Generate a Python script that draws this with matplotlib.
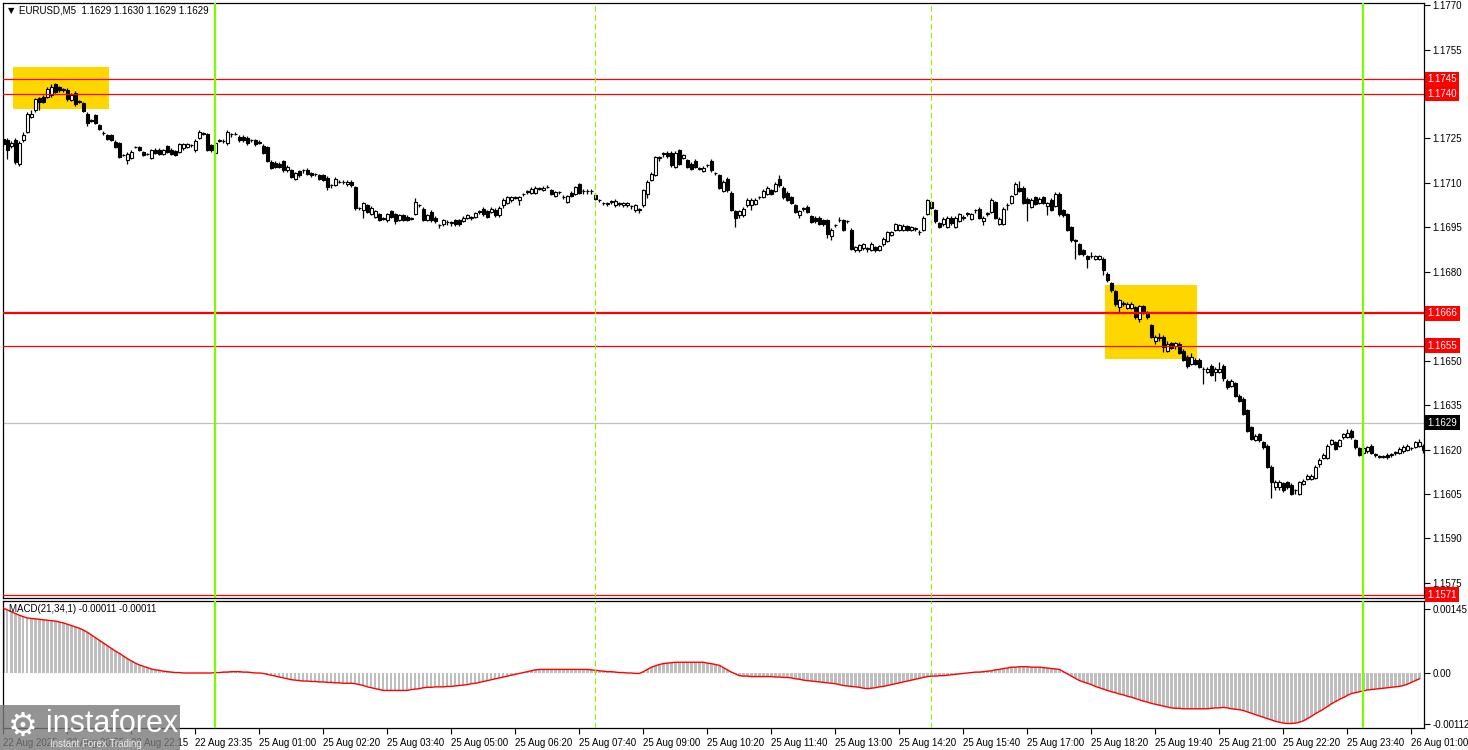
import matplotlib
matplotlib.use('Agg')
import matplotlib.pyplot as plt
from matplotlib.patches import Rectangle
import numpy as np

plt.rcParams['font.family'] = ['Liberation Sans', 'DejaVu Sans']

# EURUSD M5, prices in pips above 1.1600
opens = [
    124.9, 124.4, 122.4, 124.4, 116.3, 124.4, 127.2, 132.3, 134.5, 138.5,
    139.0, 139.0, 139.6, 143.2, 142.2, 141.5, 141.5, 138.1, 140.4, 137.6,
    136.8, 133.4, 131.1, 132.8, 129.4, 126.9, 126.1, 126.1, 123.8, 123.3,
    119.3, 117.6, 118.4, 122.1, 122.1, 120.4, 119.7, 118.4, 121.2, 121.2,
    119.9, 122.3, 121.2, 120.6, 120.4, 121.6, 122.1, 122.7, 121.0, 125.3,
    126.6, 126.4, 122.7, 120.1, 124.2, 124.2, 123.3, 126.4, 126.6, 125.5,
    125.5, 125.3, 124.4, 124.4, 123.8, 122.5, 122.1, 117.1, 116.8, 116.5,
    117.3, 114.2, 114.2, 111.4, 114.0, 114.2, 114.5, 113.3, 112.9, 112.5,
    112.5, 111.8, 109.2, 109.2, 110.3, 110.3, 109.5, 110.3, 108.6, 101.4,
    100.7, 102.4, 99.4, 98.5, 99.4, 97.9, 97.3, 100.5, 99.4, 97.6,
    99.0, 98.5, 97.9, 99.4, 102.4, 101.3, 97.6, 100.2, 98.2, 95.7,
    96.0, 96.8, 96.5, 97.3, 97.3, 97.1, 98.2, 98.2, 98.5, 100.2,
    101.3, 100.5, 100.2, 100.9, 99.0, 102.4, 103.2, 104.1, 105.0, 104.1,
    106.1, 107.0, 106.6, 106.6, 108.0, 107.5, 108.6, 107.5, 105.5, 106.9,
    105.2, 103.5, 106.6, 106.4, 109.5, 107.2, 107.2, 107.2, 105.8, 104.1,
    103.2, 102.9, 103.7, 102.4, 103.0, 102.4, 102.4, 102.1, 100.7, 100.9,
    102.4, 106.4, 111.1, 112.6, 118.5, 119.9, 120.1, 120.1, 115.4, 121.0,
    118.5, 117.6, 116.5, 117.4, 114.8, 114.0, 115.9, 117.4, 113.3, 112.6,
    107.3, 111.4, 106.6, 100.5, 99.0, 99.0, 102.4, 102.4, 103.0, 105.2,
    105.2, 106.4, 107.5, 107.3, 111.4, 108.4, 106.6, 105.2, 102.4, 99.0,
    101.3, 101.8, 98.7, 98.2, 98.2, 97.3, 97.3, 91.9, 95.7, 97.3,
    97.3, 97.1, 94.2, 87.2, 87.2, 88.1, 87.8, 87.4, 88.3, 87.4,
    89.2, 90.4, 92.3, 94.2, 94.0, 94.2, 95.3, 94.2, 94.5, 93.4,
    94.2, 99.4, 103.5, 100.7, 96.4, 96.2, 95.1, 98.3, 95.1, 97.1,
    98.3, 99.6, 97.9, 100.7, 101.3, 97.1, 99.6, 100.2, 103.5, 96.2,
    96.2, 102.4, 103.2, 106.4, 108.4, 108.4, 104.7, 101.8, 105.2, 103.2,
    105.2, 102.1, 104.3, 102.1, 106.4, 100.7, 99.4, 95.1, 90.4, 89.2,
    87.2, 85.2, 85.2, 84.4, 84.4, 84.4, 79.3, 76.2, 73.5, 68.0,
    69.2, 67.8, 67.8, 68.1, 64.1, 68.3, 66.4, 62.0, 56.8, 57.8,
    58.1, 53.4, 55.9, 54.8, 55.7, 53.3, 51.4, 48.9, 50.3, 50.3,
    47.2, 46.1, 48.3, 46.1, 46.1, 48.3, 43.3, 41.6, 42.4, 38.2,
    37.1, 33.2, 27.5, 23.2, 25.2, 22.4, 21.3, 14.2, 7.4, 7.4,
    8.6, 8.9, 8.1, 6.3, 5.0, 8.3, 10.0, 10.0, 10.4, 15.1,
    17.1, 17.1, 21.9, 22.4, 21.3, 24.1, 24.3, 26.4, 23.2, 20.5,
    19.0, 19.4, 21.3, 18.3, 17.6, 17.6, 18.3, 18.3, 19.0, 19.0,
    19.4, 19.8, 20.5, 21.0, 21.3, 21.3,
]
closes = [
    123.2, 121.0, 123.5, 117.1, 123.3, 126.3, 133.4, 133.4, 138.2, 137.3,
    137.3, 141.8, 142.2, 140.7, 141.3, 141.5, 138.2, 139.6, 136.5, 137.4,
    134.3, 130.2, 130.9, 130.2, 128.3, 126.8, 124.8, 124.6, 122.1, 118.8,
    119.3, 119.9, 120.4, 122.1, 121.0, 119.5, 119.7, 121.0, 120.1, 119.9,
    121.0, 120.4, 119.9, 119.5, 123.0, 123.0, 123.0, 122.7, 124.2, 127.2,
    126.6, 121.2, 121.0, 123.5, 124.2, 124.0, 127.2, 126.4, 126.5, 124.4,
    124.4, 123.3, 124.3, 123.0, 123.5, 120.1, 117.4, 115.1, 115.4, 115.4,
    114.2, 115.4, 112.0, 113.3, 112.5, 114.2, 113.1, 112.6, 112.9, 111.4,
    111.1, 108.6, 109.2, 111.4, 110.3, 110.3, 110.3, 109.2, 101.6, 101.4,
    103.2, 100.2, 101.6, 100.5, 97.6, 97.9, 99.4, 98.5, 97.1, 99.0,
    97.6, 97.6, 97.9, 103.5, 102.4, 97.6, 99.0, 97.3, 97.1, 95.7,
    97.3, 96.8, 96.5, 96.0, 96.0, 98.2, 99.0, 98.2, 99.8, 100.2,
    99.4, 98.5, 101.3, 99.0, 101.6, 104.3, 105.2, 105.2, 105.0, 105.2,
    106.1, 107.0, 108.0, 108.4, 108.0, 108.4, 108.6, 106.4, 106.9, 106.9,
    105.2, 105.5, 105.5, 108.6, 106.6, 107.2, 107.2, 107.2, 104.7, 104.1,
    103.2, 102.9, 103.7, 103.9, 103.0, 103.2, 103.2, 102.1, 102.4, 100.9,
    107.5, 110.3, 113.1, 118.7, 118.5, 119.9, 119.0, 115.9, 120.1, 116.5,
    119.3, 115.4, 114.8, 115.4, 114.8, 115.1, 115.9, 114.2, 113.3, 108.4,
    110.3, 107.5, 101.0, 98.3, 100.5, 101.3, 104.3, 104.3, 104.3, 105.2,
    107.3, 108.4, 106.4, 109.7, 109.2, 105.2, 104.3, 103.2, 100.2, 100.5,
    101.3, 100.2, 96.8, 97.1, 96.2, 96.0, 92.8, 94.2, 95.7, 97.3,
    94.2, 97.1, 87.8, 88.3, 88.9, 89.2, 87.8, 89.5, 87.2, 88.6,
    91.1, 93.4, 93.4, 96.0, 95.7, 95.3, 94.2, 95.1, 94.5, 93.4,
    98.3, 104.1, 101.6, 97.1, 95.1, 97.9, 98.3, 96.4, 98.3, 99.4,
    98.3, 99.6, 99.4, 100.7, 98.3, 98.3, 99.6, 104.3, 98.3, 97.9,
    101.3, 102.4, 105.5, 109.5, 107.3, 103.2, 103.2, 104.3, 103.0, 104.7,
    103.2, 103.2, 100.9, 106.4, 99.4, 99.0, 94.2, 90.6, 90.4, 86.1,
    85.9, 84.4, 85.2, 85.2, 85.2, 80.5, 77.1, 73.7, 69.0, 70.3,
    69.2, 69.2, 69.2, 64.7, 68.3, 66.4, 64.7, 58.1, 58.1, 57.8,
    54.5, 55.7, 54.3, 55.9, 52.6, 50.3, 48.3, 51.2, 48.9, 48.0,
    47.2, 47.2, 45.3, 47.2, 47.2, 44.2, 41.0, 43.3, 38.2, 36.5,
    32.0, 26.4, 23.6, 24.7, 23.2, 20.7, 14.2, 8.9, 9.2, 9.2,
    6.3, 7.2, 5.0, 6.3, 8.9, 9.5, 11.2, 11.2, 14.2, 16.5,
    18.3, 21.3, 23.2, 20.2, 23.2, 25.2, 25.5, 24.1, 20.8, 18.3,
    20.5, 20.7, 19.0, 18.3, 17.6, 17.6, 17.4, 18.3, 19.0, 20.2,
    21.0, 21.3, 20.5, 22.4, 22.4, 19.8,
]
highs = [
    125.6, 125.0, 124.2, 125.0, 124.0, 127.2, 134.0, 134.5, 138.8, 139.0,
    139.5, 142.5, 143.5, 143.8, 142.8, 142.0, 142.0, 140.2, 141.0, 138.0,
    137.2, 133.9, 131.6, 133.2, 129.9, 127.4, 126.6, 126.5, 124.3, 123.8,
    119.8, 120.4, 121.0, 122.6, 122.6, 120.9, 120.2, 121.5, 121.7, 121.7,
    121.5, 122.8, 121.7, 121.1, 123.5, 123.5, 123.5, 123.2, 124.7, 127.8,
    127.1, 126.9, 123.2, 124.0, 124.7, 124.7, 127.7, 126.9, 127.1, 126.0,
    126.0, 125.8, 124.9, 124.9, 124.3, 123.0, 122.6, 117.6, 117.3, 117.0,
    117.8, 115.9, 114.7, 113.8, 114.5, 114.7, 115.0, 113.8, 113.4, 113.0,
    113.0, 112.3, 109.7, 111.9, 110.8, 110.8, 110.8, 110.8, 109.1, 101.9,
    103.7, 102.9, 102.1, 101.0, 99.9, 98.4, 99.9, 101.0, 99.9, 99.5,
    99.5, 99.0, 98.4, 104.8, 103.0, 101.8, 99.5, 100.7, 98.7, 96.2,
    97.8, 97.3, 97.0, 97.8, 97.8, 98.7, 99.5, 98.7, 100.3, 100.7,
    101.8, 101.0, 101.8, 101.4, 102.1, 104.8, 105.7, 105.7, 105.5, 105.7,
    106.6, 107.5, 108.5, 108.9, 108.5, 108.9, 109.4, 108.0, 107.4, 107.4,
    106.0, 106.0, 107.1, 109.1, 110.0, 107.8, 107.8, 107.8, 106.6, 104.6,
    103.7, 103.4, 104.2, 104.4, 103.5, 103.7, 103.7, 102.6, 102.9, 101.5,
    108.0, 110.8, 113.6, 119.2, 119.2, 120.4, 120.6, 120.6, 120.6, 121.5,
    119.8, 118.1, 117.0, 117.9, 115.3, 115.6, 116.4, 118.2, 113.8, 113.1,
    110.8, 111.9, 107.1, 101.0, 101.0, 101.8, 104.8, 104.8, 104.8, 105.7,
    107.8, 108.9, 108.0, 110.2, 112.5, 108.9, 107.1, 105.7, 102.9, 101.0,
    101.8, 102.6, 99.2, 98.7, 98.7, 97.8, 97.8, 94.7, 96.2, 98.6,
    97.8, 97.6, 94.7, 88.8, 89.4, 89.7, 88.4, 90.0, 88.8, 89.1,
    91.6, 93.9, 93.9, 96.5, 96.2, 96.0, 95.8, 95.6, 95.0, 94.0,
    98.8, 104.6, 104.0, 101.2, 96.9, 98.4, 98.8, 98.8, 98.8, 99.9,
    99.0, 100.2, 99.9, 101.3, 101.8, 98.8, 100.2, 104.8, 104.0, 98.4,
    101.8, 103.2, 106.0, 110.3, 110.6, 108.9, 105.2, 104.8, 105.7, 105.2,
    105.7, 103.7, 104.8, 106.9, 106.9, 101.2, 99.9, 95.6, 91.2, 89.7,
    87.7, 85.7, 86.5, 85.7, 85.7, 84.9, 79.8, 76.7, 74.0, 70.8,
    70.0, 69.7, 69.7, 68.6, 68.8, 68.8, 66.9, 62.5, 58.6, 59.5,
    58.6, 56.5, 56.4, 56.4, 56.2, 53.8, 51.9, 52.5, 50.8, 50.8,
    47.8, 47.7, 48.8, 47.7, 49.5, 48.8, 43.8, 43.8, 42.9, 38.7,
    37.6, 33.7, 28.0, 25.2, 25.7, 22.9, 21.8, 14.7, 9.7, 9.7,
    9.1, 9.4, 8.6, 6.8, 9.4, 10.0, 11.7, 11.7, 14.7, 17.0,
    18.8, 21.8, 23.7, 22.9, 23.7, 25.7, 26.8, 26.9, 23.7, 21.0,
    21.5, 21.2, 21.8, 18.8, 18.1, 18.1, 18.8, 18.8, 19.5, 20.7,
    21.5, 21.8, 21.0, 22.9, 23.4, 21.8,
]
lows = [
    122.5, 118.2, 121.8, 116.5, 115.8, 123.8, 126.8, 131.8, 134.0, 134.5,
    136.8, 138.5, 139.0, 140.2, 140.8, 140.6, 137.6, 137.6, 136.0, 136.8,
    133.8, 129.1, 130.5, 129.7, 127.8, 126.2, 124.3, 124.2, 121.6, 118.3,
    118.9, 116.3, 118.0, 121.6, 120.6, 119.0, 119.3, 118.0, 119.7, 119.4,
    119.5, 120.0, 119.4, 119.0, 120.0, 121.2, 121.7, 122.2, 120.5, 124.8,
    126.1, 120.7, 120.5, 119.6, 123.7, 123.6, 122.8, 125.6, 126.0, 123.9,
    123.9, 122.8, 123.9, 122.5, 123.0, 119.6, 116.9, 114.6, 114.9, 114.9,
    113.7, 113.8, 111.5, 111.0, 112.0, 113.3, 112.7, 112.1, 112.4, 110.9,
    110.6, 107.6, 108.2, 108.8, 109.8, 109.6, 109.0, 108.7, 101.0, 100.8,
    98.2, 99.7, 99.0, 98.0, 97.1, 97.4, 96.8, 98.0, 96.2, 97.2,
    97.2, 97.2, 97.4, 99.0, 101.8, 97.1, 97.2, 96.8, 96.6, 94.6,
    95.6, 95.8, 95.6, 95.5, 95.5, 96.7, 97.8, 97.6, 98.1, 99.4,
    98.9, 98.0, 99.8, 98.5, 98.6, 101.6, 102.8, 103.7, 104.5, 102.4,
    105.6, 106.2, 106.2, 106.2, 107.5, 107.1, 108.1, 105.9, 105.1, 106.1,
    104.4, 103.1, 105.1, 106.0, 106.2, 106.4, 106.4, 106.4, 104.2, 103.4,
    102.6, 102.2, 103.0, 102.0, 102.2, 102.0, 102.0, 101.2, 100.3, 99.8,
    102.0, 105.0, 110.6, 112.2, 117.3, 118.8, 118.5, 115.4, 115.0, 116.0,
    118.0, 114.9, 114.3, 114.9, 114.3, 113.6, 115.2, 113.7, 112.6, 107.9,
    106.9, 107.0, 100.5, 95.1, 98.3, 98.6, 102.0, 101.0, 102.6, 104.5,
    104.8, 106.0, 105.9, 106.9, 108.7, 104.7, 103.8, 102.7, 99.7, 98.0,
    100.6, 99.7, 96.3, 96.6, 95.7, 95.5, 91.3, 90.6, 95.0, 96.8,
    93.7, 96.6, 87.3, 86.6, 86.8, 87.5, 86.8, 87.0, 86.7, 86.9,
    88.8, 90.0, 91.9, 93.8, 93.6, 93.8, 93.7, 93.8, 93.8, 92.4,
    93.8, 99.0, 101.1, 96.6, 94.6, 95.6, 94.7, 95.9, 94.7, 96.7,
    97.6, 98.9, 97.5, 99.9, 97.8, 95.8, 98.9, 99.8, 97.8, 95.8,
    95.8, 101.0, 102.8, 106.0, 106.8, 102.7, 97.0, 101.4, 102.5, 102.8,
    102.7, 99.0, 100.4, 101.7, 98.9, 98.5, 93.7, 90.1, 84.2, 85.6,
    85.4, 81.3, 84.7, 83.9, 83.9, 79.0, 76.6, 73.2, 68.5, 66.4,
    68.4, 67.3, 67.3, 64.2, 63.1, 65.9, 64.2, 57.6, 55.5, 56.5,
    53.0, 52.8, 53.8, 54.0, 52.1, 49.8, 47.5, 48.5, 48.4, 47.5,
    42.0, 45.7, 44.8, 43.0, 45.7, 43.0, 40.5, 41.2, 37.7, 36.0,
    31.5, 25.9, 23.1, 22.8, 22.7, 20.2, 13.7, 3.8, 6.5, 6.5,
    5.8, 6.7, 4.5, 5.0, 4.5, 7.9, 9.6, 9.6, 10.0, 14.0,
    16.7, 16.7, 21.5, 19.7, 20.9, 23.7, 23.9, 23.6, 20.3, 17.8,
    18.6, 19.0, 18.5, 17.6, 17.1, 17.1, 16.9, 17.6, 18.3, 18.6,
    19.0, 19.4, 19.8, 20.6, 20.9, 18.8,
]

# MACD(21,34,1) in units of 0.00001
macd = [
    146, 142, 138, 134, 130, 127, 124, 123, 122, 121, 120, 119, 118, 117, 115,
    113, 110, 107, 104, 101, 97, 92, 86, 80, 74, 68, 62, 56, 50, 45,
    39, 33, 28, 23, 19, 16, 13, 10, 8, 7, 5, 4, 3, 2, 2,
    1, 1, 1, 1, 1, 1, 1, 1, 2, 2, 3, 3, 4, 4,
    4, 3, 3, 2, 1, 1, 0, -2, -4, -6, -8, -10, -12, -14,
    -15, -16, -17, -17, -18, -18, -19, -19, -20, -20, -21, -21, -22, -22, -22, -23,
    -25, -27, -30, -32, -34, -36, -38, -38, -38, -38, -38, -38, -38,
    -36, -35, -34, -32, -31, -31, -30, -30, -30, -29, -29,
    -28, -27, -26, -25, -23, -22, -20, -18, -16, -14, -12, -10, -8, -6, -4, -2,
    0, 2, 4, 6, 8, 9, 9, 9, 9, 9, 9, 9, 9, 9, 9, 9, 9, 9,
    8, 7, 6, 5, 4, 4, 3, 2, 2, 1, 1, 0, 0, 4, 9, 14,
    17, 20, 22, 23, 24, 25, 25, 25, 25, 25, 25, 25, 25,
    23, 22, 20, 18, 13, 8, 3, -1, -5,
    -6, -6, -7, -7, -7, -7, -7, -7, -8, -8, -9, -9,
    -10, -12, -13, -15, -16, -17, -18, -19, -20, -21, -22, -23,
    -25, -27, -28, -29, -30, -31, -33, -34, -33, -32, -30, -29, -27, -25, -23,
    -21, -19, -17, -15, -13, -11, -9, -7, -6, -6, -5, -5, -4, -3, -2,
    -1, 0, 1, 2, 3, 3, 4, 5, 6, 8, 9, 11, 12, 14,
    14, 15, 15, 15, 14, 14, 14, 13, 12, 11, 10, 9,
    4, -1, -6, -11, -16, -19, -22, -25, -29, -32, -35, -38,
    -41, -43, -46, -48, -51, -53, -56,
    -59, -62, -64, -67, -69, -71, -73, -75, -77,
    -78, -78, -79, -79, -79, -79, -79, -79, -79,
    -78, -77, -77, -76, -77, -79, -80, -81, -83,
    -86, -89, -92, -95, -98, -101, -104, -107, -109, -111, -112,
    -112, -111, -109, -106, -101, -96, -90, -85, -80, -74, -68,
    -63, -58, -54, -49, -45, -43, -41, -39, -37, -36,
    -35, -34, -33, -32, -31, -30, -29, -27, -24, -20, -16, -12,
]

time_labels = [
    '22 Aug 2025', '22 Aug 20:55', '22 Aug 22:15', '22 Aug 23:35',
    '25 Aug 01:00', '25 Aug 02:20', '25 Aug 03:40', '25 Aug 05:00',
    '25 Aug 06:20', '25 Aug 07:40', '25 Aug 09:00', '25 Aug 10:20',
    '25 Aug 11:40', '25 Aug 13:00', '25 Aug 14:20', '25 Aug 15:40',
    '25 Aug 17:00', '25 Aug 18:20', '25 Aug 19:40', '25 Aug 21:00',
    '25 Aug 22:20', '25 Aug 23:40', '26 Aug 01:00',
]
price_ticks = [1.1770, 1.1755, 1.1740, 1.1725, 1.1710, 1.1695, 1.1680, 1.1665,
               1.1650, 1.1635, 1.1620, 1.1605, 1.1590, 1.1575]
levels = [1.1745, 1.1740, 1.1666, 1.1655, 1.1571]
bid = 1.1629
zones = [(3, 26, 1.17349, 1.17490), (276, 298, 1.16507, 1.16754)]
day_lines = [53, 339.8]
session_lines = [148, 232]

n = min(len(opens), len(closes), len(highs), len(lows))
x = np.arange(n)
o = 1.16 + np.array(opens[:n]) / 1e4
c = 1.16 + np.array(closes[:n]) / 1e4
h = 1.16 + np.array(highs[:n]) / 1e4
l = 1.16 + np.array(lows[:n]) / 1e4
h = np.maximum(h, np.maximum(o, c))
l = np.minimum(l, np.minimum(o, c))

W, H = 1468, 750
fig = plt.figure(figsize=(W / 100, H / 100), dpi=100)
ax = fig.add_axes([3 / W, 1 - 598 / H, 1421 / W, 595 / H])
ax2 = fig.add_axes([3 / W, 1 - 728 / H, 1421 / W, 127 / H])

FS = 7

# main panel
for x0, x1, y0, y1 in zones:
    ax.add_patch(Rectangle((x0 - 0.5, y0), x1 - x0 + 1, y1 - y0,
                           facecolor='#FFD700', edgecolor='none', zorder=1))

ax.vlines(x, l, h, color='black', linewidth=0.9, zorder=3)
body = np.maximum(np.abs(c - o), 0.000015)
cols = np.where(c >= o, 'white', 'black')
ax.bar(x, body, bottom=np.minimum(o, c), width=0.6, color=cols,
       edgecolor='black', linewidth=0.8, zorder=4)

ax.axhline(bid, color='#C0C0C0', linewidth=0.9, zorder=2)
for lv in levels:
    lw = 1.6 if lv == 1.1666 else 0.9
    ax.axhline(lv, color='red', linewidth=lw, zorder=5)

for d in day_lines:
    ax.axvline(d, color='#7CFC00', linewidth=1.6, zorder=6)
    ax2.axvline(d, color='#7CFC00', linewidth=1.6, zorder=6)
for s in session_lines:
    ax.axvline(s, color='#7CFC00', linewidth=0.8, linestyle=(0, (5, 3)), zorder=6)
    ax2.axvline(s, color='#7CFC00', linewidth=0.8, linestyle=(0, (5, 3)), zorder=6)

ax.set_xlim(-0.1, 355.15)
ax.set_ylim(1.15699, 1.17707)
ax.set_xticks([])
ax.yaxis.tick_right()
ax.set_yticks(price_ticks)
# 1.1740 and 1.1665 sit under the red level boxes
ax.set_yticklabels(['' if round(p, 4) in (1.1740, 1.1665) else '%.4f' % p
                    for p in price_ticks])
ax.tick_params(axis='y', direction='out', length=4, width=0.8, pad=2,
               labelsize=FS, colors='black')

yt = ax.get_yaxis_transform()
for lv in levels:
    ax.text(1.0025, lv, '%.4f' % lv, transform=yt, ha='left', va='center',
            fontsize=FS, color='white', zorder=10, clip_on=False,
            bbox=dict(boxstyle='square,pad=0.25', fc='red', ec='none'))
ax.text(1.0025, bid, '%.4f' % bid, transform=yt, ha='left', va='center',
        fontsize=FS, color='white', zorder=10, clip_on=False,
        bbox=dict(boxstyle='square,pad=0.25', fc='black', ec='none'))

ax.text(0.0035, 0.988, '\u25bc', transform=ax.transAxes, fontsize=6,
        ha='left', va='center', family=['DejaVu Sans'])
ax.text(0.011, 0.988, 'EURUSD,M5  1.1629 1.1630 1.1629 1.1629',
        transform=ax.transAxes, fontsize=FS, ha='left', va='center')

# MACD panel
mv = np.array(macd[:n]) / 1e5
xm = np.arange(len(mv))
ax2.bar(xm, mv, width=0.55, color='#BEBEBE', zorder=2)
ax2.plot(xm, mv, color='red', linewidth=1.0, zorder=3)
ax2.set_xlim(-0.1, 355.15)
ax2.set_ylim(-0.00122, 0.00162)
ax2.yaxis.tick_right()
ax2.set_yticks([0.00145, 0.0, -0.00112])
ax2.set_yticklabels(['0.00145', '0.00', '-0.00112'])
ax2.tick_params(axis='y', direction='out', length=4, width=0.8, pad=2,
                labelsize=FS)
ax2.set_xticks(np.arange(0, 16 * len(time_labels), 16))
ax2.set_xticklabels(time_labels, ha='left')
ax2.tick_params(axis='x', direction='out', length=4, width=0.8, pad=3,
                labelsize=FS)
ax2.text(0.004, 0.94, 'MACD(21,34,1) -0.00011 -0.00011', transform=ax2.transAxes,
         fontsize=FS, ha='left', va='center')

for a in (ax, ax2):
    for sp in a.spines.values():
        sp.set_color('black')
        sp.set_linewidth(0.9)

# watermark
fig.patches.append(Rectangle((0, 0), 180 / W, 45 / H, transform=fig.transFigure,
                             facecolor='#7a7a7a', alpha=0.8, edgecolor='none', zorder=20))
fig.text(8 / W, 24 / H, '\u2699', fontsize=24, color='white', ha='left',
         va='center', family=['DejaVu Sans'], zorder=21)
fig.text(46 / W, 26 / H, 'instaforex', fontsize=22, color='white', ha='left',
         va='center', zorder=21)
fig.text(50 / W, 6 / H, 'Instant Forex Trading', fontsize=7, color='#e8e8e8',
         ha='left', va='center', zorder=21)

fig.savefig('out.png', dpi=100, facecolor='white')
